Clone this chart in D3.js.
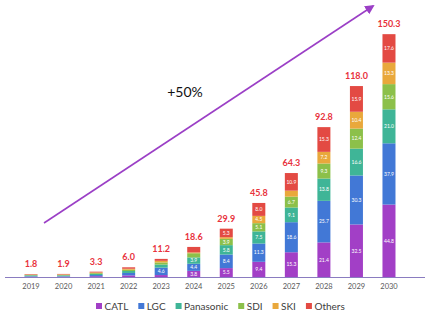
<!DOCTYPE html>
<html>
<head>
<meta charset="utf-8">
<script src="https://cdn.jsdelivr.net/npm/d3@7"></script>
<style>
  body { margin: 0; background: #fff; }
  svg { display: block; font-family: Lato, "Open Sans", sans-serif; }
</style>
</head>
<body>
<script>
'use strict';

const years = ['2019', '2020', '2021', '2022', '2023', '2024', '2025', '2026', '2027', '2028', '2029', '2030']
const makers = ['CATL', 'LGC', 'Panasonic', 'SDI', 'SKI', 'Others']

// segment values per maker, same order as years
const catl      = [0.2, 0.2, 0.5, 1.0, 1.2, 3.8, 5.5, 9.4, 15.3, 21.4, 32.5, 44.8]
const lgc       = [0.3, 0.3, 0.7, 1.5, 4.6, 4.4, 8.4, 11.3, 18.6, 25.7, 30.3, 37.9]
const panasonic = [0.5, 0.5, 0.7, 1.2, 1.9, 3.9, 5.8, 7.5, 9.1, 13.8, 16.6, 21.0]
const sdi       = [0.3, 0.3, 0.5, 0.8, 1.3, 2.6, 3.9, 5.1, 6.7, 9.3, 12.4, 15.6]
const ski       = [0.2, 0.3, 0.4, 0.6, 1.0, 0.5, 1.0, 4.5, 3.7, 7.2, 10.4, 13.3]
const others    = [0.3, 0.3, 0.5, 0.9, 1.2, 3.4, 5.3, 8.0, 10.9, 15.3, 15.9, 17.6]
const totals    = ['1.8', '1.9', '3.3', '6.0', '11.2', '18.6', '29.9', '45.8', '64.3', '92.8', '118.0', '150.3']

const colors = {
  CATL: '#a23fc6',
  LGC: '#4278d6',
  Panasonic: '#3fb597',
  SDI: '#8cc04a',
  SKI: '#e9a83c',
  Others: '#e34a43'
}

const m = { width: 427, height: 321 }

const svg = d3.select('body')
  .append('svg')
  .attr('width', m.width)
  .attr('height', m.height)

// build table for the stack
const series = [catl, lgc, panasonic, sdi, ski, others]
const table = years.map((yr, i) => {
  let row = { year: yr }
  makers.forEach((mk, j) => { row[mk] = series[j][i] })
  return row
})

const stacked = d3.stack().keys(makers)(table)

const x = d3.scaleBand()
  .domain(years)
  .range([14.75, 405.25])
  .paddingInner(0.6)
  .paddingOuter(0.3)

const y = d3.scaleLinear()
  .domain([0, 150.3])
  .range([277, 34])

// bars
const layers = svg.append('g')
  .selectAll('g')
  .data(stacked)
  .join('g')
  .attr('fill', (d) => colors[d.key])

layers.selectAll('rect')
  .data((d) => d)
  .join('rect')
  .attr('x', (d) => x(d.data.year))
  .attr('y', (d) => y(d[1]))
  .attr('width', x.bandwidth())
  .attr('height', (d) => y(d[0]) - y(d[1]))

// segment labels (only where there is room)
layers.selectAll('text')
  .data((d) => d.map((s) => ({ s: s, key: d.key })))
  .join('text')
  .filter((d) => y(d.s[0]) - y(d.s[1]) >= 6 && +d.s.data.year >= 2023)
  .attr('x', (d) => x(d.s.data.year) + x.bandwidth() / 2)
  .attr('y', (d) => (y(d.s[0]) + y(d.s[1])) / 2 + 1.8)
  .attr('text-anchor', 'middle')
  .style('font-size', '5px')
  .style('fill', '#fff')
  .text((d) => d.s.data[d.key].toFixed(1))

// totals above bars
svg.append('g')
  .selectAll('text')
  .data(years)
  .join('text')
  .attr('x', (d) => x(d) + x.bandwidth() / 2)
  .attr('y', (d, i) => y(+totals[i]) - 7)
  .attr('text-anchor', 'middle')
  .style('font-size', '9px')
  .style('font-weight', 'bold')
  .style('fill', '#e8323c')
  .text((d, i) => totals[i])

// baseline
svg.append('line')
  .attr('x1', 5)
  .attr('x2', 425)
  .attr('y1', y(0) + 0.5)
  .attr('y2', y(0) + 0.5)
  .style('stroke', '#8a7cc0')
  .style('stroke-width', 1.2)

// year labels
const xAxis = d3.axisBottom(x).tickSize(0).tickPadding(7)
const gx = svg.append('g')
  .attr('transform', 'translate(0,' + y(0) + ')')
  .call(xAxis)
gx.select('.domain').remove()
gx.selectAll('text')
  .style('font-family', 'Lato, "Open Sans", sans-serif')
  .style('font-size', '7.5px')
  .style('fill', '#595959')

// growth arrow
svg.append('defs').append('marker')
  .attr('id', 'head')
  .attr('viewBox', '0 0 10 10')
  .attr('refX', 8)
  .attr('refY', 5)
  .attr('markerWidth', 6)
  .attr('markerHeight', 6)
  .attr('orient', 'auto')
  .append('path')
  .attr('d', 'M0,0L10,5L0,10z')
  .style('fill', '#9b3fc6')

svg.append('line')
  .attr('x1', 44)
  .attr('y1', 223)
  .attr('x2', 373)
  .attr('y2', 6)
  .style('stroke', '#9b3fc6')
  .style('stroke-width', 1.6)
  .attr('marker-end', 'url(#head)')

svg.append('text')
  .attr('x', 185)
  .attr('y', 97)
  .attr('text-anchor', 'middle')
  .style('font-size', '14px')
  .style('fill', '#111')
  .text('+50%')

// legend
const legend = svg.append('g').attr('transform', 'translate(0,306)')
let lx = 96
makers.forEach((mk) => {
  legend.append('rect')
    .attr('x', lx)
    .attr('y', -3)
    .attr('width', 6)
    .attr('height', 6)
    .style('fill', colors[mk])
  const t = legend.append('text')
    .attr('x', lx + 8.5)
    .attr('y', 3.6)
    .style('font-size', '10px')
    .style('fill', '#404040')
    .text(mk)
  lx += 8.5 + t.node().getComputedTextLength() + 10
})
</script>
</body>
</html>
